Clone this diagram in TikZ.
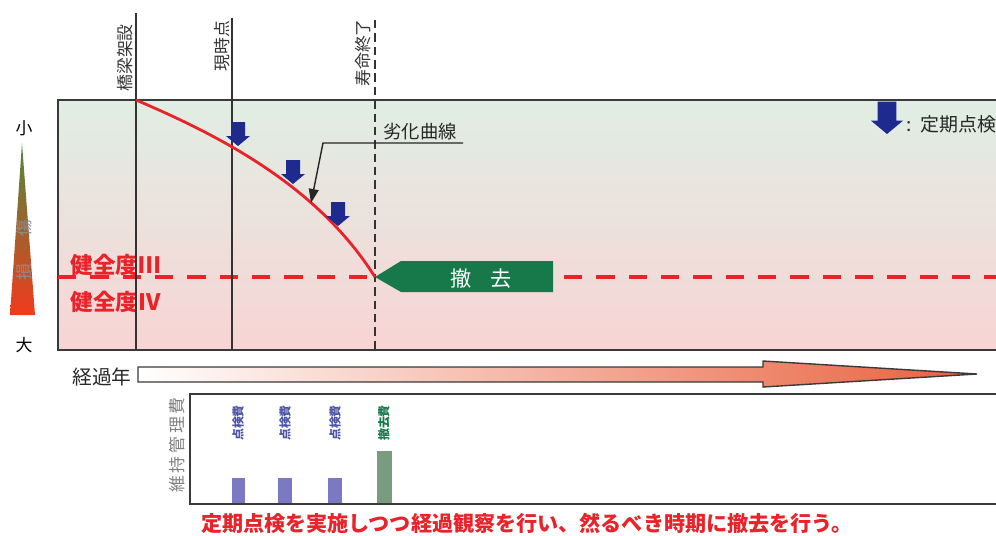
\documentclass[tikz,border=0pt]{standalone}
\usepackage{fontspec}
\setmainfont{Noto Sans CJK JP}
\usetikzlibrary{arrows.meta}

\definecolor{frame}{HTML}{3A3A3A}
\definecolor{healthtop}{HTML}{E0EEE4}
\definecolor{healthmid}{HTML}{EFE7E1}
\definecolor{healthbot}{HTML}{F8D4D4}
\definecolor{decayred}{HTML}{E8232A}
\definecolor{removegreen}{HTML}{17784A}
\definecolor{inspblue}{HTML}{1E2A8E}
\definecolor{barblue}{HTML}{7B79C2}
\definecolor{bargreen}{HTML}{7A9C7E}
\definecolor{yeararrow}{HTML}{E8603C}
\definecolor{lossgreen}{HTML}{4E8A3A}
\definecolor{lossorange}{HTML}{E0862E}
\definecolor{lossred}{HTML}{F23A1E}

\tikzset{
  fsize/.style={font=\fontsize{#1}{#1}\selectfont},
  bsize/.style={font=\fontsize{#1}{#1}\selectfont\bfseries},
  frameline/.style={draw=frame, line width=1.4pt},
  eventline/.style={draw=black!80, line width=1.4pt},
  vlabel/.style={rotate=90, anchor=west, inner sep=0pt, text=black!80, fsize=12pt},
  levelline/.style={draw=decayred, line width=2.8pt, dash pattern=on 13pt off 10pt},
  levellbl/.style={text=decayred, bsize=16pt},
  costlbl/.style={rotate=90, inner sep=0pt, bsize=8.5pt},
  inspmark/.pic={
    \fill[inspblue] (-7,-24) -- (7,-24) -- (7,-10) -- (12,-10) -- (0,0)
      -- (-12,-10) -- (-7,-10) -- cycle;
  }
}

\begin{document}
\begin{tikzpicture}[x=0.025cm, y=-0.025cm]
\useasboundingbox (0,0) rectangle (996,535);
\clip (0,0) rectangle (996,535);

% health chart
\shade[top color=healthtop, middle color=healthmid, bottom color=healthbot]
  (58,100) rectangle (1000,350);
\draw[frameline] (58,100) rectangle (1000,350);

% damage scale
\shade[top color=lossgreen, middle color=lossorange, bottom color=lossred]
  (22,143) -- (35,315) -- (10,315) -- cycle;
\node[fsize=12pt] (small) at (24,128) {小};
\node[fsize=12pt] (large) at (24,345) {大};
\node[rotate=90, text=black!45, fsize=12pt] (loss) at (24,250) {損\hspace{1.6em}傷};

% health levels
\coordinate (build) at (136,100);
\coordinate (end) at (375,277);
\coordinate (levelL) at (58,277);
\coordinate (levelR) at (564,277);
\coordinate (levelE) at (1000,277);
\draw[levelline] (levelL) -- (end);
\draw[levelline] (levelR) -- (levelE);
\node[levellbl, anchor=west] (lvthree) at (66,265) {健全度Ⅲ};
\node[levellbl, anchor=west] (lvfour) at (66,302) {健全度Ⅳ};

% events
\coordinate (buildtop) at (136,13);
\coordinate (buildbot) at (136,350);
\coordinate (nowtop) at (232,18);
\coordinate (nowbot) at (232,350);
\coordinate (lifetop) at (375,20);
\coordinate (lifebot) at (375,350);
\draw[eventline] (buildtop) -- (buildbot);
\draw[eventline] (nowtop) -- (nowbot);
\draw[draw=black!80, line width=1pt, dash pattern=on 6pt off 3.5pt] (lifetop) -- (lifebot);
\node[vlabel] (buildlbl) at (125,92) {橋梁架設};
\node[vlabel] (nowlbl) at (222,72) {現時点};
\node[vlabel] (lifelbl) at (363,87) {寿命終了};

% deterioration curve
\draw[decayred, line width=2pt] (build) .. controls (230,140) and (320,190) .. (end);
\foreach \x/\y in {238/146, 293/184, 338/226}
  \pic at (\x,\y) {inspmark};

\node[fsize=13pt, text=black!85] (curvelbl) at (420,132) {劣化曲線};
\coordinate (curveR) at (463,143);
\coordinate (curveL) at (323,143);
\coordinate (curvept) at (311,203);
\draw[black!85, line width=1pt, -{Triangle[length=10pt, width=7pt]}]
  (curveR) -- (curveL) -- (curvept);

% removal
\fill[removegreen] (end) -- (401,261) -- (553,261) -- (553,292) -- (401,292) -- cycle;
\node[text=white, fsize=15pt] (removelbl) at (481,279) {撤\hspace{0.9em}去};

% legend
\pic[scale=1.35] at (887,134) {inspmark};
\node[anchor=west, fsize=13.5pt, text=black!85] (legend) at (902,124) {:\hspace{6pt}定期点検};

% elapsed years
\node[fsize=14pt, text=black!85] (years) at (102,377) {経過年};
\shade[left color=white, right color=yeararrow, draw=frame, line width=1pt]
  (138,367) -- (763,367) -- (763,361) -- (977,374) -- (763,387)
  -- (763,382) -- (138,382) -- cycle;

% maintenance cost
\draw[frame, line width=2pt] (190,394) rectangle (1005,504);
\node[rotate=90, text=black!50, fsize=12pt] (cost) at (177,445) {維\,持\,管\,理\,費};
\fill[barblue] (232,478) rectangle (245,503);
\fill[barblue] (278,478) rectangle (292,503);
\fill[barblue] (328,478) rectangle (342,503);
\fill[bargreen] (377,451) rectangle (392,503);
\node[costlbl, text=inspblue!80] (insp1) at (238,423) {点検費};
\node[costlbl, text=inspblue!80] (insp2) at (285,423) {点検費};
\node[costlbl, text=inspblue!80] (insp3) at (335,423) {点検費};
\node[costlbl, text=removegreen] (removal) at (384,423) {撤去費};

\node[text=decayred, bsize=15pt] (policy) at (527,523)
  {定期点検を実施しつつ経過観察を行い、然るべき時期に撤去を行う。};
\end{tikzpicture}
\end{document}
